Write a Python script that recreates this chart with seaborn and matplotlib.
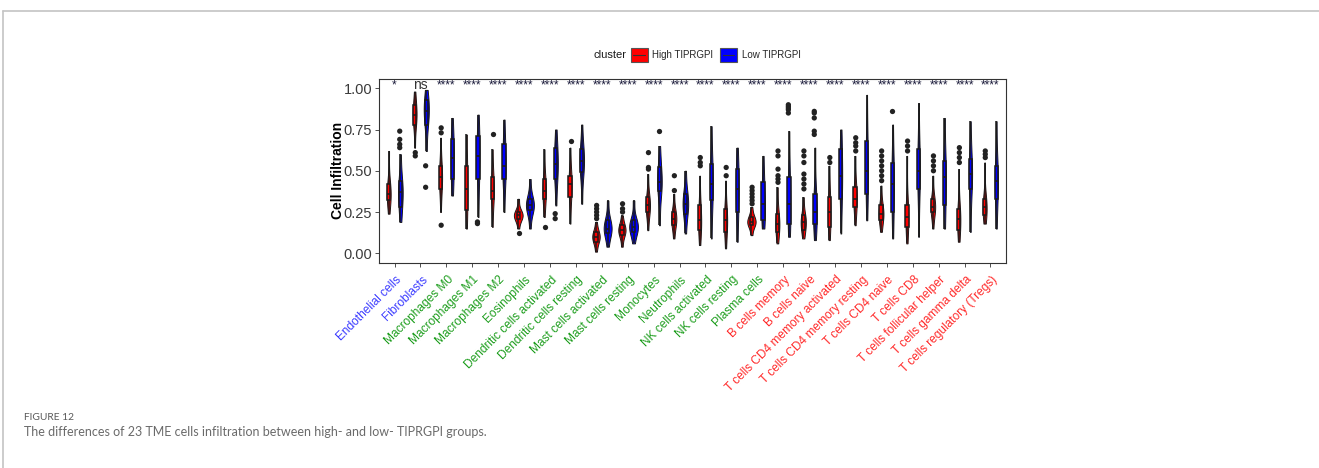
import numpy as np
import pandas as pd
import matplotlib
matplotlib.use("Agg")
import matplotlib.pyplot as plt
from matplotlib.lines import Line2D
from matplotlib.patches import Rectangle, Patch
from matplotlib.legend_handler import HandlerBase
from matplotlib.transforms import ScaledTranslation
import seaborn as sns

# ---- data -------------------------------------------------------------
cells = [
    "Endothelial cells", "Fibroblasts", "Macrophages M0", "Macrophages M1",
    "Macrophages M2", "Eosinophils", "Dendritic cells activated",
    "Dendritic cells resting", "Mast cells activated", "Mast cells resting",
    "Monocytes", "Neutrophils", "NK cells activated", "NK cells resting",
    "Plasma cells", "B cells memory", "B cells naive",
    "T cells CD4 memory activated", "T cells CD4 memory resting",
    "T cells CD4 naive", "T cells CD8", "T cells follicular helper",
    "T cells gamma delta", "T cells regulatory (Tregs)",
]
cell_class = ["stromal"] * 2 + ["myeloid"] * 13 + ["lymphoid"] * 9
signif = ["*", "ns"] + ["****"] * 22

# High TIPRGPI: lower whisker, Q1, median, Q3, upper whisker, outliers
high_lo = [0.24, 0.64, 0.25, 0.15, 0.16, 0.15, 0.22, 0.18, 0.01, 0.04, 0.14, 0.09,
           0.05, 0.03, 0.11, 0.06, 0.09, 0.08, 0.17, 0.13, 0.06, 0.15, 0.07, 0.18]
high_q1 = [0.32, 0.78, 0.39, 0.26, 0.33, 0.21, 0.33, 0.34, 0.07, 0.11, 0.25, 0.17,
           0.14, 0.13, 0.17, 0.13, 0.14, 0.16, 0.28, 0.20, 0.16, 0.25, 0.14, 0.23]
high_med = [0.36, 0.84, 0.46, 0.39, 0.38, 0.23, 0.38, 0.42, 0.10, 0.14, 0.29, 0.21,
            0.20, 0.20, 0.19, 0.18, 0.19, 0.25, 0.33, 0.24, 0.22, 0.28, 0.21, 0.28]
high_q3 = [0.42, 0.90, 0.53, 0.53, 0.46, 0.25, 0.45, 0.47, 0.13, 0.17, 0.34, 0.25,
           0.29, 0.27, 0.22, 0.24, 0.23, 0.34, 0.40, 0.29, 0.29, 0.33, 0.27, 0.33]
high_hi = [0.62, 0.98, 0.70, 0.72, 0.63, 0.33, 0.63, 0.64, 0.19, 0.23, 0.48, 0.36,
           0.47, 0.44, 0.28, 0.40, 0.34, 0.53, 0.59, 0.41, 0.59, 0.47, 0.51, 0.55]
high_out = [
    [], [0.59, 0.61], [0.17, 0.73, 0.76], [], [0.72], [0.12], [0.16], [0.68],
    [0.21, 0.23, 0.25, 0.27, 0.29], [0.25, 0.27, 0.30], [0.51, 0.52, 0.61],
    [0.38, 0.47], [0.53, 0.55, 0.58], [0.47, 0.52],
    [0.30, 0.32, 0.34, 0.36, 0.38, 0.40], [0.43, 0.45, 0.47, 0.51, 0.59, 0.62],
    [0.39, 0.42, 0.45, 0.48, 0.55, 0.59, 0.62], [0.55, 0.58],
    [0.62, 0.65, 0.67, 0.70], [0.44, 0.47, 0.50, 0.53, 0.56, 0.59, 0.62],
    [0.62, 0.65, 0.68], [0.50, 0.53, 0.56, 0.59], [0.55, 0.58, 0.61, 0.64],
    [0.58, 0.60, 0.62],
]

# Low TIPRGPI
low_lo = [0.19, 0.62, 0.35, 0.22, 0.25, 0.15, 0.29, 0.30, 0.04, 0.06, 0.17, 0.12,
          0.09, 0.07, 0.15, 0.10, 0.08, 0.12, 0.20, 0.09, 0.10, 0.15, 0.13, 0.15]
low_q1 = [0.28, 0.78, 0.45, 0.45, 0.45, 0.26, 0.45, 0.49, 0.12, 0.13, 0.38, 0.24,
          0.32, 0.25, 0.20, 0.18, 0.18, 0.33, 0.36, 0.25, 0.39, 0.29, 0.39, 0.33]
low_med = [0.37, 0.86, 0.58, 0.59, 0.53, 0.29, 0.54, 0.56, 0.15, 0.16, 0.43, 0.30,
           0.42, 0.39, 0.30, 0.30, 0.25, 0.47, 0.50, 0.42, 0.50, 0.46, 0.48, 0.44]
low_q3 = [0.44, 0.93, 0.69, 0.71, 0.66, 0.33, 0.64, 0.63, 0.20, 0.20, 0.52, 0.36,
          0.54, 0.51, 0.43, 0.46, 0.36, 0.63, 0.68, 0.55, 0.63, 0.56, 0.57, 0.53]
low_hi = [0.60, 0.99, 0.82, 0.84, 0.81, 0.45, 0.75, 0.78, 0.32, 0.32, 0.65, 0.50,
          0.77, 0.64, 0.59, 0.74, 0.64, 0.75, 0.96, 0.78, 0.91, 0.82, 0.80, 0.80]
low_out = [
    [0.64, 0.66, 0.69, 0.74], [0.40, 0.53], [], [0.18, 0.19], [], [], [0.21, 0.24],
    [], [], [], [0.74], [], [], [], [], [0.85, 0.87, 0.88, 0.89, 0.90],
    [0.72, 0.74, 0.82, 0.85, 0.86], [], [], [0.86], [], [], [], [],
]

groups = ["High TIPRGPI", "Low TIPRGPI"]
palette = {"High TIPRGPI": "#ff0000", "Low TIPRGPI": "#0000ff"}
class_colors = {"stromal": "#3c3cff", "myeloid": "#1e9e1e", "lymphoid": "#ff2a2a"}

# ---- long tables ------------------------------------------------------
# box_df: the five box statistics per group (drawn with whiskers at min/max)
# vio_df: the same statistics, with the quartiles and median counted more
#         than the whisker ends so the density bulges inside the box
box_rows, vio_rows, out_rows = [], [], []
series = {
    "High TIPRGPI": (high_lo, high_q1, high_med, high_q3, high_hi, high_out),
    "Low TIPRGPI": (low_lo, low_q1, low_med, low_q3, low_hi, low_out),
}
for g, (lo, q1, med, q3, hi, out) in series.items():
    for i, c in enumerate(cells):
        stats = (lo[i], q1[i], med[i], q3[i], hi[i])
        for v in stats:
            box_rows.append((c, g, v))
        for v, count in zip(stats, (1, 2, 3, 2, 1)):
            vio_rows.extend([(c, g, v)] * count)
        for v in out[i]:
            out_rows.append((c, g, v))
cols = ["cell", "cluster", "value"]
box_df = pd.DataFrame(box_rows, columns=cols)
vio_df = pd.DataFrame(vio_rows, columns=cols)
out_df = pd.DataFrame(out_rows, columns=cols)

# ---- styling ----------------------------------------------------------
sns.set_theme(style="white")
plt.rcParams["font.family"] = ["Liberation Sans", "DejaVu Sans"]

fig = plt.figure(figsize=(13.19, 4.68), dpi=100)
W, H = 1319, 468
ax = fig.add_axes([379 / W, 1 - 262.7 / H, (1006 - 379) / W, (262.7 - 79) / H])

sns.violinplot(data=vio_df, x="cell", y="value", hue="cluster", order=cells,
               hue_order=groups, palette=palette, density_norm="area", cut=0,
               inner=None, width=0.9, gap=0.25, linewidth=0.7,
               linecolor="#1a1a1a", saturation=1, legend=False, ax=ax)
sns.boxplot(data=box_df, x="cell", y="value", hue="cluster", order=cells,
            hue_order=groups, palette=palette, width=0.9, gap=0.72, whis=np.inf,
            linewidth=1.1, linecolor="#1a1a1a", saturation=1, showcaps=False,
            legend=False, ax=ax)
sns.stripplot(data=out_df, x="cell", y="value", hue="cluster", order=cells,
              hue_order=groups, dodge=True, jitter=False,
              palette={g: "#222222" for g in groups}, size=3.8, linewidth=0,
              legend=False, ax=ax)

ax.set_xlim(-0.6, 23.6)
ax.set_ylim(-0.057, 1.056)
ax.set_yticks([0, 0.25, 0.5, 0.75, 1.0])
ax.set_yticklabels(["0.00", "0.25", "0.50", "0.75", "1.00"])
ax.set_xlabel("")
ax.set_ylabel("Cell Infiltration", fontsize=10, fontweight="bold",
              color="black", labelpad=-1)
for s in ax.spines.values():
    s.set_visible(True)
    s.set_color("#333333")
    s.set_linewidth(0.8)
ax.tick_params(axis="y", left=True, length=3, width=0.6, color="#333333",
               labelsize=10.5, labelcolor="#3a3a3a", pad=2)
ax.tick_params(axis="x", bottom=True, length=3, width=0.6, color="#333333",
               labelsize=8.6, pad=8)

shift = ScaledTranslation(5 / 100, 0, fig.dpi_scale_trans)
for lab, cls in zip(ax.get_xticklabels(), cell_class):
    lab.set_rotation(45)
    lab.set_ha("right")
    lab.set_va("center")
    lab.set_rotation_mode("anchor")
    lab.set_color(class_colors[cls])
    lab.set_transform(lab.get_transform() + shift)

for i, s in enumerate(signif):
    if s == "ns":
        ax.text(i, 0.996, s, ha="center", va="baseline", fontsize=10,
                color="#333333")
    else:
        ax.text(i, 1.0, s, ha="center", va="baseline", fontsize=8.5,
                color="#1a1a3a")


# ---- legend -----------------------------------------------------------
class BoxKeyHandler(HandlerBase):
    def create_artists(self, legend, orig_handle, xdescent, ydescent,
                       width, height, fontsize, trans):
        r = Rectangle((-xdescent, -ydescent), width, height,
                      facecolor=orig_handle.get_facecolor(),
                      edgecolor="#555555", linewidth=0.8, transform=trans)
        mid = -ydescent + height / 2
        ln = Line2D([-xdescent + width * 0.15, -xdescent + width * 0.85],
                    [mid, mid], color="#333333", lw=0.8, transform=trans)
        return [r, ln]


handles = [Patch(facecolor=palette[g], label=g) for g in groups]
fig.legend(handles=handles, labels=groups, loc="center left",
           bbox_to_anchor=(631 / W, 1 - 55 / H), ncol=2, frameon=False,
           fontsize=7, handlelength=1.7, handleheight=1.9,
           handletextpad=0.5, columnspacing=0.7, borderpad=0,
           borderaxespad=0, handler_map={Patch: BoxKeyHandler()})
fig.text(593 / W, 1 - 55 / H, "cluster", ha="left", va="center", fontsize=8,
         color="#1a1a1a")

# ---- page frame and caption ------------------------------------------
fig.add_artist(Line2D([3 / W, 1], [1 - 11 / H, 1 - 11 / H],
                      transform=fig.transFigure, color="#c4c4c4", lw=1.2))
fig.add_artist(Line2D([3 / W, 3 / W], [0, 1 - 11 / H],
                      transform=fig.transFigure, color="#c4c4c4", lw=1.2))
fig.text(24 / W, 1 - 420 / H, "FIGURE 12", ha="left", va="baseline",
         fontsize=7.4, color="#595959", family=["Lato", "DejaVu Sans"])
fig.text(24 / W, 1 - 436 / H,
         "The differences of 23 TME cells infiltration between high- and low- TIPRGPI groups.",
         ha="left", va="baseline", fontsize=9.0, color="#6a6a6a",
         family=["Lato", "DejaVu Sans"])

fig.savefig("out.png", dpi=100, facecolor="white")
